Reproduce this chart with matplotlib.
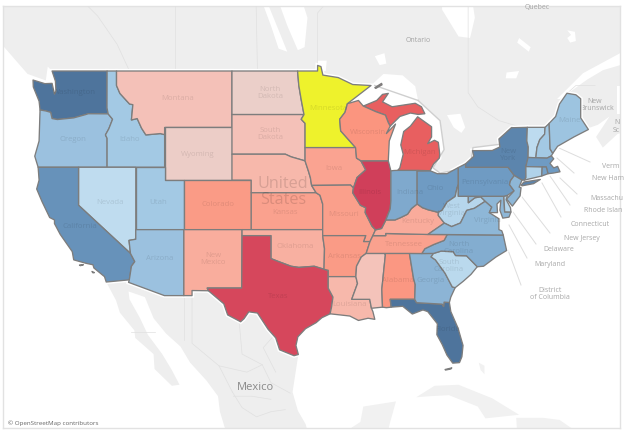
import numpy as np
import matplotlib
matplotlib.use('Agg')
import matplotlib.pyplot as plt
from matplotlib.colors import LinearSegmentedColormap
from matplotlib.patches import Polygon

plt.rcParams['font.family'] = ['Open Sans', 'DejaVu Sans']

# State values on the diverging scale
state_values = {
    'WA': 0.95, 'OR': 0.35, 'ID': 0.30, 'NV': 0.08, 'UT': 0.30, 'AZ': 0.35, 'CA': 0.68,
    'MT': -0.10, 'ND': -0.01, 'SD': -0.10, 'WY': -0.02, 'NE': -0.20, 'KS': -0.40,
    'CO': -0.45, 'NM': -0.30, 'TX': -0.93, 'OK': -0.28, 'IA': -0.38, 'WI': -0.50,
    'IL': -1.00, 'MI': -0.75, 'MO': -0.42, 'AR': -0.45, 'LA': -0.20, 'MS': -0.08,
    'AL': -0.48, 'TN': -0.40, 'KY': -0.32, 'IN': 0.50, 'OH': 0.60, 'PA': 0.60,
    'NY': 0.80, 'WV': 0.15, 'VA': 0.42, 'NC': 0.48, 'SC': 0.12, 'GA': 0.43, 'FL': 0.95,
    'ME': 0.33, 'NH': 0.30, 'VT': 0.10, 'MA': 0.60, 'CT': 0.20, 'RI': 0.55, 'NJ': 0.42,
    'DE': 0.15, 'MD': 0.42,
}
highlight_state = 'MN'

# State outlines, lon/lat
outlines = {
    'WA': [(-117.03,49),(-117.04,46.42),(-116.92,45.99),(-118.98,46),(-119.3,45.93),(-120.5,45.7),(-121.2,45.65),(-122.2,45.58),(-122.75,45.65),(-122.9,46.1),(-123.4,46.2),(-124,46.27),(-124.1,46.9),(-124.7,47.9),(-124.73,48.38),(-123.5,48.13),(-122.75,48.15),(-122.5,47.4),(-122.35,47.6),(-122.4,48.3),(-122.75,49)],
    'OR': [(-116.92,45.99),(-116.46,45.6),(-116.85,44.9),(-117.2,44.45),(-117.03,44.2),(-117.03,42),(-124.2,42),(-124.55,42.85),(-124.1,44),(-124,46.27),(-123.4,46.2),(-122.9,46.1),(-122.75,45.65),(-122.2,45.58),(-121.2,45.65),(-120.5,45.7),(-119.3,45.93),(-118.98,46)],
    'ID': [(-117.03,49),(-116.05,49),(-116.05,48),(-115.7,47.45),(-114.7,46.7),(-114.35,46.65),(-114.5,45.55),(-113.9,45.65),(-113.45,44.95),(-113,44.45),(-111.5,44.55),(-111.05,44.47),(-111.05,42),(-117.03,42),(-117.03,44.2),(-117.2,44.45),(-116.85,44.9),(-116.46,45.6),(-116.92,45.99),(-117.04,46.42)],
    'MT': [(-116.05,49),(-104.05,49),(-104.05,45),(-111.05,45),(-111.05,44.47),(-111.5,44.55),(-113,44.45),(-113.45,44.95),(-113.9,45.65),(-114.5,45.55),(-114.35,46.65),(-114.7,46.7),(-115.7,47.45),(-116.05,48)],
    'WY': [(-111.05,45),(-104.05,45),(-104.05,41),(-111.05,41)],
    'UT': [(-114.05,42),(-111.05,42),(-111.05,41),(-109.05,41),(-109.05,37),(-114.05,37)],
    'NV': [(-120,42),(-114.05,42),(-114.05,36.2),(-114.75,36.1),(-114.6,35),(-120,39)],
    'CA': [(-124.2,42),(-120,42),(-120,39),(-114.6,35),(-114.15,34.3),(-114.5,33.9),(-114.72,32.72),(-117.12,32.53),(-117.3,33),(-118.4,33.75),(-118.5,34.03),(-119.2,34.15),(-120.5,34.45),(-120.65,35.15),(-121.9,36.6),(-122.5,37.5),(-122.5,37.8),(-123,38),(-123.8,39.3),(-124.35,40.3),(-124.1,41)],
    'AZ': [(-114.05,37),(-109.05,37),(-109.05,31.33),(-111.07,31.33),(-114.8,32.5),(-114.72,32.72),(-114.5,33.9),(-114.15,34.3),(-114.6,35),(-114.75,36.1),(-114.05,36.2)],
    'CO': [(-109.05,41),(-102.05,41),(-102.05,37),(-109.05,37)],
    'NM': [(-109.05,37),(-103,37),(-103.04,32),(-106.62,32),(-106.5,31.76),(-108.2,31.78),(-108.2,31.33),(-109.05,31.33)],
    'ND': [(-104.05,49),(-97.23,49),(-97.1,48),(-96.85,47),(-96.56,45.94),(-104.05,45.94)],
    'SD': [(-104.05,45.94),(-96.56,45.94),(-96.85,45.6),(-96.45,45.3),(-96.45,43.5),(-96.45,42.49),(-97.9,42.8),(-98.5,43),(-104.05,43),(-104.05,45)],
    'NE': [(-104.05,43),(-98.5,43),(-97.9,42.8),(-96.45,42.49),(-96.1,41.7),(-95.9,41.2),(-95.77,40.58),(-95.3,40),(-102.05,40),(-102.05,41),(-104.05,41)],
    'KS': [(-102.05,40),(-95.3,40),(-94.9,39.8),(-94.62,39.1),(-94.62,37),(-102.05,37)],
    'OK': [(-103,37),(-94.62,37),(-94.62,36.5),(-94.43,35.4),(-94.48,33.64),(-95.5,33.9),(-97.1,33.8),(-97.9,33.9),(-99.2,34.3),(-100,34.56),(-100,36.5),(-103,36.5)],
    'TX': [(-106.62,32),(-103.04,32),(-103,36.5),(-100,36.5),(-100,34.56),(-99.2,34.3),(-97.9,33.9),(-97.1,33.8),(-95.5,33.9),(-94.48,33.64),(-94.04,33.55),(-94.04,33),(-94.04,31.99),(-93.55,31.2),(-93.7,30.3),(-93.85,29.7),(-94.7,29.35),(-95.3,28.9),(-96.4,28.35),(-97.2,27.6),(-97.4,26.8),(-97.15,25.96),(-97.6,25.85),(-99.1,26.4),(-99.5,27.5),(-100.3,28.3),(-101.4,29.77),(-102.3,29.88),(-102.8,29.25),(-103.15,28.98),(-104.5,29.6),(-104.9,30.6),(-106.5,31.76)],
    'MN': [(-97.23,49),(-95.15,49),(-95.15,49.38),(-94.8,49.3),(-94.6,48.72),(-93,48.55),(-91.5,48.07),(-89.6,48),(-92.05,46.72),(-92.3,46.1),(-92.85,45.6),(-92.75,44.75),(-91.2,43.5),(-96.45,43.5),(-96.45,45.3),(-96.85,45.6),(-96.56,45.94),(-96.85,47),(-97.1,48)],
    'IA': [(-96.45,43.5),(-91.2,43.5),(-91.1,42.7),(-90.65,42.5),(-90.15,41.8),(-91.05,41.2),(-91.42,40.38),(-91.73,40.61),(-95.77,40.58),(-95.9,41.2),(-96.1,41.7),(-96.45,42.49)],
    'MO': [(-95.77,40.58),(-91.73,40.61),(-91.42,40.38),(-91.5,40),(-90.7,39),(-90.15,38.8),(-90.2,38.4),(-89.5,37.3),(-89.13,36.98),(-89.4,36.5),(-89.7,36),(-90.37,36),(-90.15,36.5),(-94.62,36.5),(-94.62,39.1),(-94.9,39.8),(-95.3,40)],
    'AR': [(-94.62,36.5),(-90.15,36.5),(-90.37,36),(-89.7,36),(-90.1,35),(-90.6,34.7),(-91.1,33.9),(-91.17,33),(-94.04,33),(-94.04,33.55),(-94.48,33.64),(-94.43,35.4)],
    'LA': [(-94.04,33),(-91.17,33),(-91,32.4),(-91.6,31),(-89.73,31),(-89.55,30.2),(-89.4,29.9),(-89.2,29.2),(-89.9,29.3),(-90.9,29.1),(-91.8,29.5),(-92.3,29.55),(-93.85,29.7),(-93.7,30.3),(-93.55,31.2),(-94.04,31.99)],
    'MS': [(-90.1,35),(-88.2,35),(-88.1,34.9),(-88.47,31.9),(-88.4,30.3),(-89.55,30.2),(-89.73,31),(-91.6,31),(-91,32.4),(-91.17,33),(-91.1,33.9),(-90.6,34.7)],
    'AL': [(-88.2,35),(-85.6,35),(-85.18,32.87),(-85,32.3),(-85.05,31),(-87.6,31),(-87.5,30.3),(-88,30.25),(-88.4,30.3),(-88.47,31.9),(-88.1,34.9)],
    'FL': [(-87.6,31),(-85.05,31),(-84.86,30.7),(-82.2,30.57),(-82.05,30.36),(-82,30.75),(-81.45,30.72),(-81.3,29.9),(-80.55,28.4),(-80.03,26.8),(-80.15,25.75),(-80.4,25.2),(-81.1,25.15),(-81.7,25.9),(-82.2,26.9),(-82.75,27.8),(-82.7,28.8),(-83.7,29.9),(-84.2,30.05),(-85.3,29.68),(-86.3,30.38),(-87.5,30.3)],
    'GA': [(-85.6,35),(-83.1,35),(-83.35,34.7),(-82.9,34.45),(-81.9,33.3),(-81.15,32.1),(-80.85,32.03),(-81.3,31.2),(-81.45,30.72),(-82,30.75),(-82.05,30.36),(-82.2,30.57),(-84.86,30.7),(-85.05,31),(-85,32.3),(-85.18,32.87)],
    'SC': [(-83.1,35),(-82.3,35.2),(-81.05,35.15),(-80.8,34.82),(-79.67,34.8),(-78.55,33.86),(-79.2,33.2),(-80,32.6),(-80.85,32.03),(-81.15,32.1),(-81.9,33.3),(-82.9,34.45),(-83.35,34.7)],
    'NC': [(-84.32,34.99),(-83.1,35),(-82.3,35.2),(-81.05,35.15),(-80.8,34.82),(-79.67,34.8),(-78.55,33.86),(-77.9,33.9),(-76.6,34.7),(-75.5,35.25),(-75.85,36.55),(-81.68,36.59),(-82,36.1),(-83.1,35.75),(-84,35.4)],
    'TN': [(-90.1,35),(-89.7,36),(-89.4,36.5),(-88.07,36.5),(-88.07,36.68),(-83.68,36.6),(-81.68,36.59),(-82,36.1),(-83.1,35.75),(-84,35.4),(-84.32,34.99),(-85.6,35),(-88.2,35)],
    'KY': [(-89.4,36.5),(-89.13,36.98),(-88.5,37.1),(-88.05,37.8),(-87.1,37.8),(-86.5,38),(-85.8,38.27),(-85.4,38.73),(-84.8,39.1),(-84.25,38.8),(-83.65,38.63),(-82.6,38.42),(-82.6,38.17),(-81.97,37.54),(-83.68,36.6),(-88.07,36.68),(-88.07,36.5)],
    'IL': [(-90.65,42.5),(-87.8,42.5),(-87.53,41.72),(-87.53,39.35),(-87.6,38.7),(-88.05,37.8),(-88.5,37.1),(-89.13,36.98),(-89.5,37.3),(-90.2,38.4),(-90.15,38.8),(-90.7,39),(-91.5,40),(-91.42,40.38),(-91.05,41.2),(-90.15,41.8)],
    'IN': [(-87.53,41.72),(-87.2,41.75),(-86.82,41.76),(-84.8,41.76),(-84.8,39.1),(-85.4,38.73),(-85.8,38.27),(-86.5,38),(-87.1,37.8),(-88.05,37.8),(-87.6,38.7),(-87.53,39.35)],
    'OH': [(-84.8,41.7),(-83.45,41.73),(-82.7,41.5),(-81.7,41.5),(-80.52,41.98),(-80.52,40.64),(-80.65,40.4),(-80.85,39.7),(-81.7,39.25),(-82.2,38.6),(-82.6,38.42),(-83.65,38.63),(-84.25,38.8),(-84.8,39.1)],
    'MI': [(-86.82,41.76),(-84.8,41.76),(-83.45,41.73),(-83.1,42.25),(-82.5,42.7),(-82.45,43),(-82.6,43.9),(-83,44.05),(-83.7,43.8),(-83.3,44.3),(-83.3,45.05),(-84.75,45.78),(-85.5,45.1),(-86.2,44.7),(-86.5,43.7),(-86.25,43),(-86.6,41.95)],
    'WI': [(-92.05,46.72),(-90.9,46.95),(-90.4,46.55),(-89.1,46.15),(-88.1,45.9),(-87.8,45.35),(-87.6,45.1),(-88,44.55),(-87.05,45.25),(-87.7,44),(-87.8,42.5),(-90.65,42.5),(-91.1,42.7),(-91.2,43.5),(-92.75,44.75),(-92.85,45.6),(-92.3,46.1)],
    'WV': [(-82.6,38.17),(-82.6,38.42),(-82.2,38.6),(-81.7,39.25),(-80.85,39.7),(-80.65,40.4),(-80.52,40.64),(-80.52,39.72),(-79.48,39.72),(-79.48,39.2),(-78.8,39.6),(-78.2,39.68),(-77.72,39.32),(-78.35,39),(-78.85,38.75),(-79.65,38.58),(-80.3,37.55),(-81.22,37.25),(-81.97,37.54)],
    'VA': [(-83.68,36.6),(-81.97,37.54),(-81.22,37.25),(-80.3,37.55),(-79.65,38.58),(-78.85,38.75),(-78.35,39),(-77.72,39.32),(-77.04,38.85),(-77.3,38.4),(-76.3,37.9),(-76.3,37),(-76,36.9),(-75.85,36.55),(-81.68,36.59)],
    'MD': [(-79.48,39.72),(-75.79,39.72),(-75.7,38.46),(-75.05,38.45),(-75.25,38.03),(-75.9,37.95),(-76.2,38.6),(-76.1,39.4),(-76.5,39.1),(-76.45,38.4),(-77.3,38.4),(-77.04,38.85),(-77.72,39.32),(-78.2,39.68),(-78.8,39.6),(-79.48,39.2)],
    'DE': [(-75.79,39.72),(-75.4,39.8),(-75.55,39.45),(-75.1,38.8),(-75.05,38.45),(-75.7,38.46)],
    'PA': [(-80.52,41.98),(-79.76,42.27),(-79.76,42),(-75.35,42),(-74.7,41.36),(-75.1,40.95),(-75.2,40.65),(-74.72,40.15),(-75.4,39.8),(-75.79,39.72),(-80.52,39.72)],
    'NY': [(-79.76,42.27),(-78.9,42.85),(-79.05,43.27),(-77,43.28),(-76.2,43.55),(-76.3,44.15),(-75,44.98),(-73.35,45.01),(-73.4,44),(-73.25,43.55),(-73.27,42.75),(-73.5,42.05),(-73.49,41.2),(-73.65,41),(-73.9,41),(-74.7,41.36),(-75.35,42),(-79.76,42)],
    'NJ': [(-74.7,41.36),(-73.9,41),(-74.2,40.45),(-74,40.4),(-74.1,39.75),(-74.9,38.93),(-75.5,39.5),(-74.72,40.15),(-75.2,40.65),(-75.1,40.95)],
    'VT': [(-73.35,45.01),(-71.5,45.01),(-71.55,44.5),(-72.05,44.1),(-72.35,43.5),(-72.46,42.73),(-73.27,42.75),(-73.25,43.55),(-73.4,44)],
    'NH': [(-71.5,45.01),(-71.08,45.3),(-70.98,43.4),(-70.7,43.07),(-70.85,42.87),(-71.3,42.7),(-72.46,42.73),(-72.35,43.5),(-72.05,44.1),(-71.55,44.5)],
    'ME': [(-71.08,45.3),(-70.4,45.8),(-70,46.7),(-69.23,47.46),(-68.3,47.35),(-67.8,47.07),(-67.8,45.7),(-67,44.85),(-68.5,44.3),(-70.2,43.6),(-70.7,43.07),(-70.98,43.4)],
    'MA': [(-73.5,42.05),(-71.8,42.02),(-71.38,42.02),(-71.2,41.5),(-70.65,41.55),(-69.95,41.65),(-70.2,42.07),(-70.6,41.95),(-71,42.3),(-70.6,42.65),(-70.85,42.87),(-71.3,42.7),(-72.46,42.73),(-73.27,42.75)],
    'CT': [(-73.5,42.05),(-71.8,42.02),(-71.85,41.32),(-73.65,41),(-73.49,41.2)],
    'RI': [(-71.8,42.02),(-71.38,42.02),(-71.2,41.5),(-71.85,41.32)],
}
# Extra pieces that belong to a state
extra_parts = {
    'MI': [[(-90.4,46.55),(-89,46.95),(-88.4,47.38),(-87.8,47.45),(-88.4,46.85),(-87.4,46.5),(-85,46.75),(-84.35,46.5),(-84,46),(-84.7,45.95),(-85.5,46.05),(-86.6,45.8),(-87.6,45.1),(-87.8,45.35),(-88.1,45.9),(-89.1,46.15)],
           [(-89.2,47.85),(-88.5,48.15),(-88.45,48.05),(-89.1,47.8)]],
    'NY': [[(-74,40.6),(-73.7,40.85),(-72.6,40.98),(-72,41.05),(-72.7,40.72),(-73.9,40.55)]],
    'FL': [[(-81.9,24.55),(-81.2,24.7),(-81.3,24.6),(-81.85,24.5)]],
    'CA': [[(-119.9,34.0),(-119.5,34.03),(-119.8,33.95)], [(-118.6,33.45),(-118.35,33.35),(-118.5,33.33)]],
}

# Where the grey land stops in the Great Lakes, lon/lat
lake_border = [(-84.7,46.95),(-82.42,45.5),(-82,43.35),(-83.15,41.95),(-82.42,41.55),(-79.3,42),(-79,43.5),(-76.2,43.75),(-75.45,44.7),(-74.95,45)]
superior_line = [(-89.2,48),(-84.7,46.95)]

# Land around the states, lon/lat
canada = [(-95.15,49),(-95.15,49.38),(-94.8,49.3),(-94.6,48.72),(-93,48.55),(-91.5,48.07),(-89.6,48),(-88.3,48.8),(-86.3,48.7),(-85,47.95)] + lake_border + [(-73.35,45.01),(-71.5,45.01),(-71.08,45.3),(-70.4,45.8),(-70,46.7),(-69.23,47.46),(-68.3,47.35),(-67.8,47.07),(-67.8,45.7),(-67,44.95),(-66,45.2),(-64.8,45.8),(-66.2,44.3),(-65.5,43.5),(-64,44.5),(-61,45.3),(-60,46),(-60,65),(-130,65),(-130,52),(-128,50.8),(-125.3,48.8),(-123.4,48.35),(-123.2,49.3),(-122.75,49)]
mexico = [(-117.12,32.53),(-114.72,32.72),(-114.8,32.5),(-111.07,31.33),(-108.2,31.33),(-108.2,31.78),(-106.5,31.76),(-104.9,30.6),(-104.5,29.6),(-103.15,28.98),(-102.8,29.25),(-102.3,29.88),(-101.4,29.77),(-100.3,28.3),(-99.5,27.5),(-99.1,26.4),(-97.6,25.85),(-97.15,25.96),(-97.75,22.4),(-97.2,20.6),(-96.4,19.3),(-96,18),(-104.5,18),(-105.3,20.5),(-105.5,22),(-106.7,23.5),(-108.4,25.2),(-109.4,26.7),(-110.9,27.9),(-112.2,29.3),(-113.1,31.2),(-114.8,31.7),(-114.7,31),(-113.6,29.3),(-112.8,27.8),(-111.3,26),(-110.3,24.5),(-109.5,23.1),(-110.3,23),(-112.1,24.6),(-112.2,26),(-114.1,27.5),(-114.2,28.2),(-115.7,29.8),(-116.1,30.9)]
yucatan = [(-94.5,18),(-92,18.7),(-90.7,19.5),(-90.4,21),(-87,21.5),(-87.6,19.5),(-88,18)]
caribbean = [
    [(-84.9,21.9),(-83,23),(-80.5,23.1),(-77,21.8),(-74.2,20.2),(-77.7,19.85),(-78.5,21),(-81.5,22.1),(-83.5,22)],
    [(-74.5,19.9),(-71.7,19.9),(-70,19.7),(-68.3,18.6),(-71,18),(-74.4,18.3)],
    [(-78.4,25.2),(-77.8,24.9),(-77.8,24.1),(-78.2,24.5)],
    [(-78.3,18.4),(-76.3,18.1),(-77.5,17.8)],
]
# Gulf and inland water sitting on the grey land
water = [
    [(-70.26,47.05),(-67.56,48.85),(-63.7,50.2),(-62,50.5),(-62,49.4),(-63.7,49.4),(-65.5,49.05),(-67.15,48.4),(-69.95,47.05)],
    [(-64,48),(-62,48),(-62,46),(-64,46)],
    [(-99.2,53.5),(-97,54),(-96.2,52.5),(-96.5,50.6),(-97.2,50.4),(-98.3,52)],
    [(-100.8,53.3),(-100.2,53.2),(-99,51.4),(-98.3,50.3),(-99.2,50.5),(-100,52)],
    [(-89.2,50),(-88.2,50.2),(-88,49.5),(-88.7,49.4)],
    [(-82.5,55.5),(-82.2,53),(-80.5,51.3),(-79.3,51.2),(-78.8,52.5),(-79.3,54.5),(-78,55.5)],
    [(-74.2,51.2),(-73,50.6),(-73.2,50.3),(-74.4,50.9)],
    [(-69.2,51.7),(-68.4,51.6),(-68.3,51),(-68.9,50.9),(-69.2,51.2),(-68.8,51.4)],
    [(-75.5,48.9),(-74.2,49),(-74.5,48.5),(-75.6,48.5)],
    [(-81.7,45.9),(-80.3,46),(-79.8,45),(-80.2,44.6),(-81,45)],
    [(-95.2,49.7),(-94.2,49.7),(-94.3,49),(-95.1,49)],
]
province_lines = [
    [(-120,65),(-120,60),(-120,53.8),(-118,52.6),(-116,50.8),(-114.7,49)],
    [(-110,65),(-110,49)],
    [(-102,65),(-101.4,49)],
    [(-95.15,49.38),(-95.15,52.8),(-89,57)],
    [(-79.5,55),(-79.5,47.5),(-78.5,46.5),(-76.3,45.5),(-74.4,45.1)],
    [(-69.2,47.46),(-68.3,48),(-66.3,48)],
    [(-108.2,31.33),(-108.2,27),(-105.4,24.9),(-104,22.4)],
    [(-109,31.33),(-109,27.3)],
    [(-103.3,29),(-103,26),(-100.9,25),(-100,23.3),(-98,22.3)],
    [(-105.4,24.9),(-102.5,24.3),(-100.9,25)],
    [(-104,22.4),(-103,20.9),(-101.5,20),(-100,20.5),(-98.5,20.7)],
    [(-103.9,22),(-102,22),(-100,21.7)],
    [(-114.5,28),(-113,28),(-112,28)],
    [(-99.7,27.7),(-100.8,26.6),(-99.5,24.3)],
]

# Text on the map
state_labels = {
    'Washington': (74,92), 'Oregon': (73,140), 'Idaho': (130,140), 'Montana': (178,99),
    'North\nDakota': (270,93), 'South\nDakota': (270,134), 'Wyoming': (198,154),
    'Nevada': (110,202), 'Utah': (158,202), 'Colorado': (218,205), 'Kansas': (285,212),
    'California': (80,227), 'Arizona': (160,259), 'New\nMexico': (213,259),
    'Oklahoma': (295,247), 'Texas': (278,296), 'Minnesota': (328,109), 'Wisconsin': (368,133),
    'Michigan': (420,152), 'Iowa': (334,168), 'Illinois': (370,193), 'Indiana': (410,193),
    'Ohio': (435,189), 'Missouri': (344,214), 'Kentucky': (418,221), 'Arkansas': (344,257),
    'Tennessee': (404,245), 'Pennsylvania': (485,182), 'New\nYork': (508,155),
    'West\nVirginia': (452,210), 'Virginia': (488,220), 'North\nCarolina': (459,248),
    'South\nCarolina': (449,266), 'Georgia': (431,280), 'Alabama': (398,280),
    'Louisiana': (349,304), 'Florida': (448,329), 'Maine': (569,120),
}
# label text, left or centre x, y, alignment (the first four run off the frame in the picture)
side_labels = [
    ('Verm', 602, 166, 'left'), ('New Ham', 592, 179, 'left'),
    ('Massachu', 590, 199, 'left'), ('Rhode Islan', 584, 211, 'left'),
    ('Connecticut', 571, 224, 'left'), ('New Jersey', 582, 239, 'center'),
    ('Delaware', 559, 249, 'center'), ('Maryland', 550, 264, 'center'),
    ('District\nof Columbia', 550, 294, 'center'),
]
leader_lines = [
    [(559,148),(590,162)], [(557,158),(574,173)], [(560,178),(577,194)], [(550,176),(570,205)],
    [(542,183),(561,217)], [(522,197),(550,233)], [(513,212),(536,244)], [(509,225),(527,258)],
    [(508,250),(521,285)],
]
place_labels = [('Quebec', 537, 8), ('Ontario', 418, 41), ('New', 595, 101),
                ('Brunswick', 597, 109), ('N', 617, 123), ('Sc', 616, 131)]

color_stops = [(-1.0,'#d03f5a'),(-0.75,'#e85f60'),(-0.5,'#fb957f'),(-0.25,'#f8b3a5'),(-0.05,'#f3c6be'),
               (0.0,'#e8d2cd'),(0.05,'#c3dff1'),(0.3,'#a3c9e4'),(0.6,'#6f9bc3'),(1.0,'#4a6f97')]
cmap = LinearSegmentedColormap.from_list('rdbu', [((v + 1) / 2, c) for v, c in color_stops])


def merc(lat):
    return np.degrees(np.log(np.tan(np.radians(45 + np.asarray(lat, dtype=float) / 2))))


def project(points):
    pts = np.array(points, dtype=float)
    return np.column_stack([pts[:, 0], merc(pts[:, 1])])


PX_PER_DEG = 9.62


def px(x, y):
    """Picture pixel to map coordinates, for text and leader lines"""
    return -117.04 + (x - 107) / PX_PER_DEG, float(merc(49)) - (y - 71) / PX_PER_DEG


fig = plt.figure(figsize=(6.24, 4.36), dpi=100)
ax = fig.add_axes([3 / 624, 1 - 428 / 436, 617 / 624, 422 / 436])
ax.set_xlim(px(3, 0)[0], px(620, 0)[0])
ax.set_ylim(px(0, 428)[1], px(0, 6)[1])
ax.set_xticks([])
ax.set_yticks([])
for s in ax.spines.values():
    s.set_color('#e2e2e2')
    s.set_linewidth(1.0)

for shape in [canada, mexico]:
    ax.add_patch(Polygon(project(shape), fc='#eeeeee', ec='none', zorder=1))
for shape in [yucatan] + caribbean:
    ax.add_patch(Polygon(project(shape), fc='#f1f1f1', ec='none', zorder=1))
for shape in water:
    ax.add_patch(Polygon(project(shape), fc='white', ec='none', zorder=2))
for line in province_lines:
    xy = project(line)
    ax.plot(xy[:, 0], xy[:, 1], color='#e0e0e0', lw=0.5, zorder=3)

# white halo round the country
for st, shape in outlines.items():
    ax.add_patch(Polygon(project(shape), fc='white', ec='white', lw=3, zorder=4))
    for part in extra_parts.get(st, []):
        ax.add_patch(Polygon(project(part), fc='white', ec='white', lw=2, zorder=4))
for line in [superior_line, lake_border]:
    xy = project(line)
    ax.plot(xy[:, 0], xy[:, 1], color='#cfcfcf', lw=1.0, zorder=4.5)

for st, shape in outlines.items():
    if st == highlight_state:
        fill = '#eef22c'
    else:
        fill = cmap((state_values[st] + 1) / 2)
    for part in [shape] + extra_parts.get(st, []):
        ax.add_patch(Polygon(project(part), fc=fill, ec='#7d7d7d', lw=0.95, joinstyle='round', zorder=5))

for name, (x, y) in state_labels.items():
    ax.text(*px(x, y), name, ha='center', va='center', fontsize=5.6, color='black', alpha=0.1,
            linespacing=1.1, zorder=6)
ax.text(*px(283, 192), 'United\nStates', ha='center', va='center', fontsize=11.6, color='black',
        alpha=0.13, linespacing=1.05, zorder=6)

for line in leader_lines:
    a, b = px(*line[0]), px(*line[1])
    ax.plot([a[0], b[0]], [a[1], b[1]], color='#dddddd', lw=0.7, zorder=3)
for name, x, y, align in side_labels:
    ax.text(*px(x, y), name, ha=align, va='center', fontsize=5, color='#a8a8a8', linespacing=1.1, zorder=6)
for name, x, y in place_labels:
    ax.text(*px(x, y), name, ha='center', va='center', fontsize=5, color='#a5a5a5', zorder=3)
ax.text(*px(255, 388), 'Mexico', ha='center', va='center', fontsize=8, color='#8a8a8a', zorder=6)
ax.text(*px(8, 423), '© OpenStreetMap contributors', ha='left', va='center', fontsize=4.5, color='#666666', zorder=6)

fig.savefig('out.png', dpi=100)
